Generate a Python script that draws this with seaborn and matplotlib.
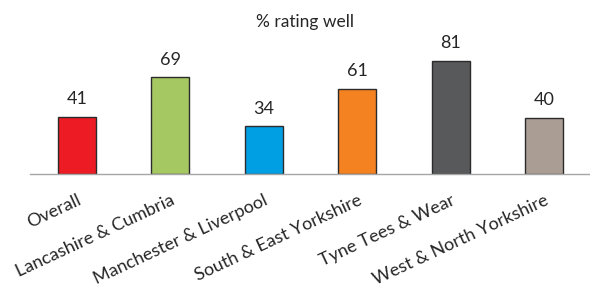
import matplotlib
matplotlib.use("Agg")
import matplotlib.pyplot as plt
import seaborn as sns
import pandas as pd
import numpy as np

categories = ["Overall", "Lancashire & Cumbria", "Manchester & Liverpool",
              "South & East Yorkshire", "Tyne Tees & Wear", "West & North Yorkshire"]
values = [41, 69, 34, 61, 81, 40]
colors = ["#ED1C24", "#A5C863", "#009FE3", "#F58220", "#58595B", "#AA9D94"]
subtitle = "% rating well"

sns.set_theme(style="white")
plt.rcParams['font.family'] = ['Lato', 'DejaVu Sans']

df = pd.DataFrame({"cat": categories, "val": values})

fig = plt.figure(figsize=(5.9, 2.87), dpi=100)
ax = fig.add_axes([30/590, 113/287, 561/590, 126/287])
sns.barplot(data=df, x="cat", y="val", hue="cat", palette=colors, order=categories,
            hue_order=categories, width=0.41, edgecolor="#2b2b2b", linewidth=1.0,
            legend=False, ax=ax, dodge=False, saturation=1)
ax.set_ylim(0, 90)
ax.set_xlim(-0.5, len(categories) - 0.5)
ax.set_ylabel("")
ax.set_xlabel("")
ax.set_yticks([])
for s in ["top", "right", "left"]:
    ax.spines[s].set_visible(False)
ax.spines["bottom"].set_color("#A6A6A6")
ax.spines["bottom"].set_linewidth(1.0)

for c in ax.containers:
    ax.bar_label(c, fmt="%d", padding=7, fontsize=13, color="#262626")

ax.set_xticks(np.arange(len(categories)))
ax.set_xticklabels(categories, rotation=25, ha="right", rotation_mode="anchor",
                   fontsize=13, color="#262626")
ax.tick_params(axis="x", which="major", length=0, pad=13)
ax.set_xticks(np.arange(len(categories)) - 0.5, minor=True)
ax.tick_params(axis="x", which="minor", length=5, color="#A6A6A6", width=1.0, direction="out")

fig.text(305/590, 1 - 22/287, subtitle, ha="center", va="center", fontsize=12.5, color="#262626")

fig.savefig("out.png", dpi=100)
